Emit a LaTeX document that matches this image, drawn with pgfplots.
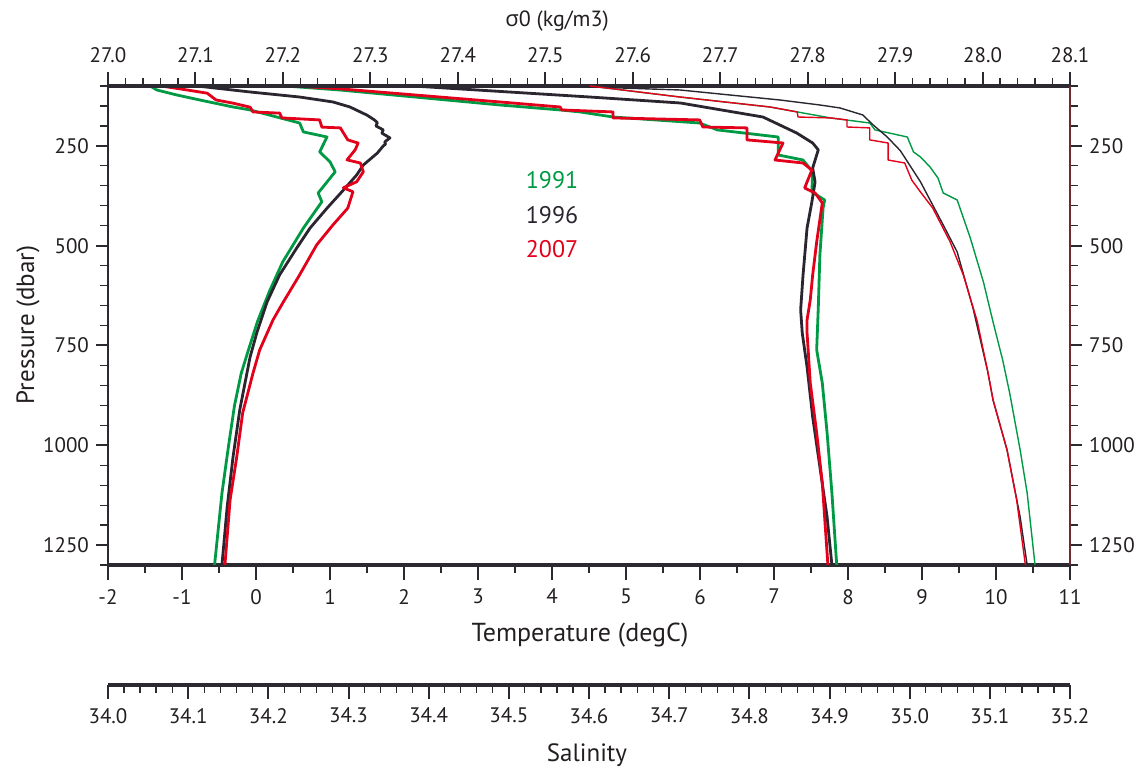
\documentclass[border=0pt]{standalone}
\usepackage{fontspec}
\setmainfont{PT Sans}
\newfontfamily\greekfont{Open Sans}
\usepackage{pgfplots}
\pgfplotsset{compat=1.18}
\definecolor{axcol}{HTML}{2D2930}
\definecolor{txtcol}{HTML}{231F20}
\definecolor{g91}{HTML}{009A44}
\definecolor{k96}{HTML}{2B2530}
\definecolor{r07}{HTML}{E2001A}
\definecolor{maroonax}{HTML}{6E2A2E}

\pgfplotsset{
  base/.style={scale only axis, width=481pt, height=239.5pt, at={(54pt,102.5pt)}, anchor=south west,
    ymin=100, ymax=1300, y dir=reverse, tick align=outside,
    /pgf/number format/assume math mode=true, /pgf/number format/1000 sep={},
    ticklabel style={font=\fontsize{10.5}{12}\selectfont, text=txtcol},
    tick style={color=axcol},
    major tick style={line width=1pt}, minor tick style={line width=0.6pt}},
  thickline/.style={line width=1.4pt, line join=round},
  thinline/.style={line width=0.7pt, line join=round},
}

\begin{document}
\begin{tikzpicture}[x=1pt,y=1pt]
\useasboundingbox (0,0) rectangle (568,385);

% ---------------- temperature ----------------
\begin{axis}[base, xmin=-2, xmax=11, axis x line*=bottom, hide y axis,
  x axis line style={-, line width=1.6pt, color=axcol},
  xtick={-2,-1,0,1,2,3,4,5,6,7,8,9,10,11}, minor x tick num=1,
  major tick length=7.5pt, minor tick length=4pt,
  xticklabel style={yshift=-1pt}]
\addplot[thickline, g91] coordinates {
(-1.43,100) (-1.34,110) (-1.07,122.5) (-0.76,135) (-0.31,152.6) (-0.08,160) (0.28,177.7)
(0.59,192.7) (0.64,215) (0.96,227.8) (0.86,265) (1.00,290) (1.07,315) (0.84,368) (0.89,390)
(0.64,456) (0.36,541) (0.18,615) (0.02,690) (-0.10,760) (-0.20,820) (-0.29,900) (-0.37,1000)
(-0.46,1120) (-0.56,1300)};
\addplot[thickline, k96] coordinates {
(-0.80,100) (-0.08,115) (0.59,127.6) (1.04,140) (1.27,152.6) (1.50,173) (1.60,185) (1.64,192)
(1.62,200) (1.72,210) (1.70,218) (1.81,230) (1.74,240) (1.75,246) (1.72,250) (1.64,268)
(1.45,298) (1.36,323) (1.18,361) (0.96,406) (0.73,456) (0.55,506) (0.32,573) (0.15,641)
(0.01,719) (-0.08,779) (-0.22,912) (-0.31,1029) (-0.39,1155) (-0.46,1300)};
\addplot[thickline, r07] coordinates {
(-1.28,100) (-0.93,110) (-0.66,118) (-0.54,135) (-0.31,143) (-0.08,153) (-0.04,165) (0.32,168)
(0.35,180) (0.86,185) (0.89,203) (1.14,205) (1.24,235) (1.38,243) (1.34,260) (1.23,285)
(1.41,293) (1.45,315) (1.36,340) (1.18,355) (1.31,365) (1.24,406) (1.04,448) (0.82,498)
(0.59,573) (0.36,644) (0.23,686) (0.05,761) (-0.04,819) (-0.18,919) (-0.26,1029) (-0.35,1137)
(-0.42,1300)};
\node[text=g91, font=\fontsize{12}{14}\selectfont] at (axis cs:4.0,335) {1991};
\node[text=k96, font=\fontsize{12}{14}\selectfont] at (axis cs:4.0,423) {1996};
\node[text=r07, font=\fontsize{12}{14}\selectfont] at (axis cs:4.0,508) {2007};
\end{axis}

% ---------------- salinity curves ----------------
\begin{axis}[base, xmin=34, xmax=35.2, hide axis]
\addplot[thickline, g91] coordinates {
(34.221,100) (34.289,110) (34.489,147.6) (34.564,160) (34.589,165) (34.630,177.7) (34.738,192.7)
(34.760,210) (34.836,227.8) (34.836,272.8) (34.867,285.4) (34.872,297.9) (34.879,315.4)
(34.878,365.5) (34.894,385.6) (34.892,405.6) (34.888,523.3) (34.886,656) (34.884,761)
(34.891,844) (34.897,969) (34.903,1119.5) (34.909,1300)};
\addplot[thickline, k96] coordinates {
(34.380,100) (34.601,127.6) (34.714,142.6) (34.817,177.7) (34.838,197.7) (34.859,217.7)
(34.879,242.8) (34.886,260) (34.879,305.4) (34.882,340.5) (34.878,390.6) (34.872,455.7)
(34.867,573.4) (34.864,661) (34.866,718.7) (34.872,804) (34.879,929) (34.888,1054.4)
(34.897,1179.6) (34.903,1300)};
\addplot[thickline, r07] coordinates {
(34.233,100) (34.289,107) (34.489,140) (34.564,152.6) (34.566,160) (34.630,165) (34.630,180)
(34.738,185) (34.742,202.7) (34.797,205) (34.797,235) (34.842,242.8) (34.832,285.4)
(34.867,292.9) (34.878,310.4) (34.869,355.5) (34.882,368) (34.891,393) (34.884,490.8)
(34.879,573.4) (34.876,636) (34.872,686) (34.872,718.7) (34.876,844) (34.884,969)
(34.891,1094.5) (34.898,1300)};
\end{axis}

% ---------------- sigma0 ----------------
\begin{axis}[base, xmin=27, xmax=28.1, axis x line*=top, hide y axis,
  x axis line style={-, line width=1.6pt, color=axcol},
  xtick={27.0,27.1,27.2,27.3,27.4,27.5,27.6,27.7,27.8,27.9,28.0,28.1}, minor x tick num=4,
  major tick length=7pt, minor tick length=4pt,
  xticklabel style={yshift=1pt, /pgf/number format/fixed, /pgf/number format/fixed zerofill, /pgf/number format/precision=1}]
\addplot[thinline, g91] coordinates {
(27.551,100) (27.654,127.6) (27.757,152.6) (27.826,180) (27.871,192.7) (27.877,210) (27.914,227.8)
(27.921,265) (27.929,277.9) (27.940,302.9) (27.949,330.5) (27.955,368) (27.971,385.6)
(27.986,480.8) (28.001,591) (28.012,691.2) (28.023,786.4) (28.031,869) (28.043,1011.8)
(28.051,1119.5) (28.060,1300)};
\addplot[thinline, k96] coordinates {
(27.520,100) (27.654,110) (27.768,135) (27.814,147.6) (27.837,155) (27.863,172.6) (27.875,197.7)
(27.891,227.8) (27.906,262) (27.929,340) (27.955,448) (27.971,515.8) (27.989,656) (28.006,816)
(28.012,886.6) (28.028,1011.8) (28.043,1179.6) (28.051,1300)};
\addplot[thinline, r07] coordinates {
(27.551,100) (27.654,127.6) (27.757,152.6) (27.788,165) (27.789,177.7) (27.826,180) (27.845,185)
(27.845,202.7) (27.871,205) (27.871,235) (27.892,242.8) (27.892,285.4) (27.911,292.9)
(27.919,335.5) (27.929,365.5) (27.943,405.6) (27.963,490.8) (27.978,573.4) (27.994,690)
(28.006,816) (28.012,886.6) (28.028,1011.8) (28.039,1137) (28.049,1300)};
\end{axis}

% ---------------- pressure left ----------------
\begin{axis}[base, xmin=0, xmax=1, hide x axis, axis y line*=left,
  y axis line style={-, line width=1pt, color=axcol},
  ytick={250,500,750,1000,1250},
  minor ytick={100,150,200,300,350,400,450,550,600,650,700,800,850,900,950,1050,1100,1150,1200,1300},
  major tick length=6pt, minor tick length=4pt]
\end{axis}

% ---------------- pressure right ----------------
\begin{axis}[base, xmin=0, xmax=1, hide x axis, axis y line*=right,
  y axis line style={-, line width=1pt, color=maroonax},
  ytick={250,500,750,1000,1250},
  minor ytick={100,150,200,300,350,400,450,550,600,650,700,800,850,900,950,1050,1100,1150,1200,1300},
  major tick length=6pt, minor tick length=4pt]
\end{axis}

% ---------------- salinity scale ----------------
\begin{axis}[scale only axis, width=481pt, height=20pt, at={(54pt,42.5pt)}, anchor=south west,
  xmin=34, xmax=35.2, ymin=0, ymax=1, hide y axis, axis x line*=bottom,
  x axis line style={-, line width=1.6pt, color=axcol},
  tick align=outside, tick style={color=axcol},
  major tick style={line width=1pt}, minor tick style={line width=0.6pt},
  major tick length=7pt, minor tick length=4pt,
  xtick={34.0,34.1,34.2,34.3,34.4,34.5,34.6,34.7,34.8,34.9,35.0,35.1,35.2}, minor x tick num=4,
  /pgf/number format/assume math mode=true,
  xticklabel style={font=\fontsize{10.5}{12}\selectfont, text=txtcol, yshift=-1pt,
    /pgf/number format/fixed, /pgf/number format/fixed zerofill, /pgf/number format/precision=1}]
\end{axis}

\node[text=txtcol, font=\fontsize{11}{13}\selectfont] at (278.5,374.5) {{\greekfont σ}0 (kg/m3)};
\node[text=txtcol, font=\fontsize{13}{15}\selectfont] at (290,67.5) {Temperature (degC)};
\node[text=txtcol, font=\fontsize{12.5}{14}\selectfont] at (293.5,7.5) {Salinity};
\node[text=txtcol, font=\fontsize{12.5}{14}\selectfont, rotate=90] at (14,222.5) {Pressure (dbar)};
\end{tikzpicture}
\end{document}
